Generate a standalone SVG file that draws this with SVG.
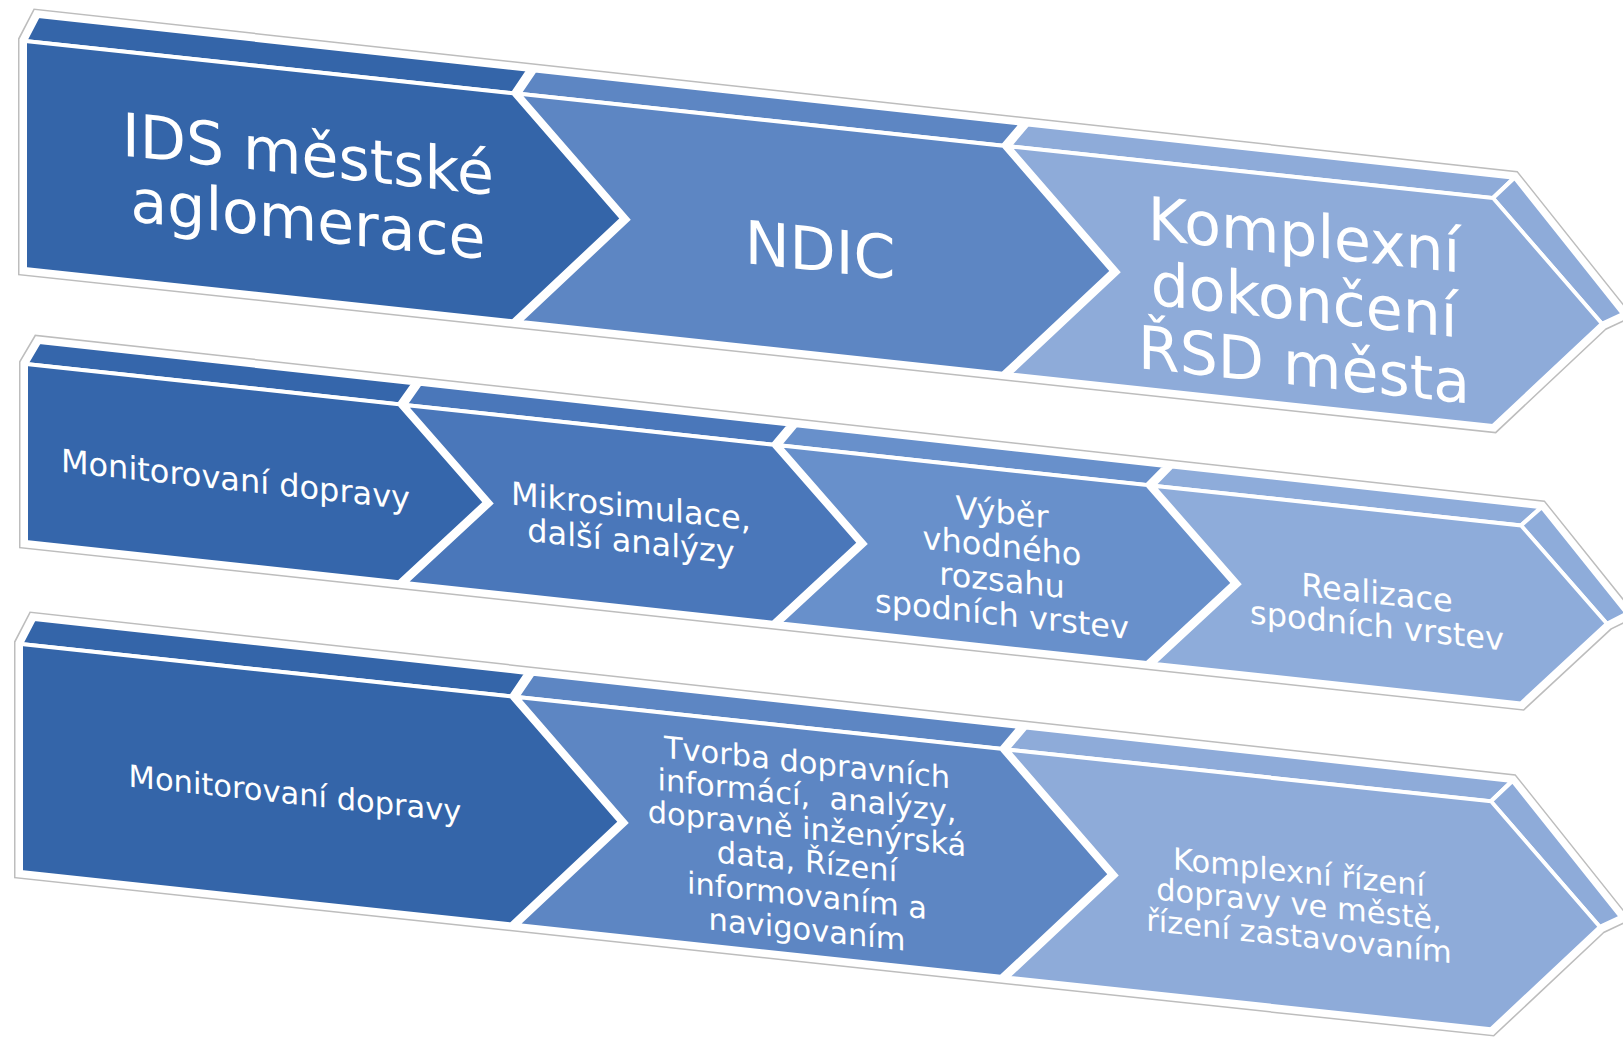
<svg xmlns="http://www.w3.org/2000/svg" width="1623" height="1038" viewBox="0 0 1623 1038">
<style>
.bg{fill:#ffffff}
.o1{fill:#ffffff;stroke:#bdbdbd;stroke-width:14;stroke-linejoin:miter}
.o2{fill:#ffffff;stroke:#ffffff;stroke-width:11;stroke-linejoin:miter}
.f{stroke:#ffffff;stroke-width:4;stroke-linejoin:miter}
.c1{fill:#3465a9}
.c2a{fill:#5d86c3}
.c3a{fill:#8eabd9}
.d1{fill:#3566ab}
.d2{fill:#4a77ba}
.d3{fill:#6890cb}
.d4{fill:#8eacda}
.t{fill:#ffffff;font-family:"DejaVu Sans",Verdana,sans-serif;text-anchor:middle}
.s1{font-size:60px}
.s2{font-size:32px}
.s3{font-size:30.5px}
</style>
<rect class="bg" x="0" y="0" width="1623" height="1038"/>
<g id="connectors"/>

<g id="row1" transform="matrix(1,0.107,0,1,25,41)">
  <path class="o1" d="M0,228 L0,0 L13,-26.4 L1489.4,-22.7 L1598,102 L1577,114 L1468,228 Z"/>
  <path class="o2" d="M0,228 L0,0 L13,-26.4 L1489.4,-22.7 L1598,102 L1577,114 L1468,228 Z"/>
  <g id="r1-ids">
    <polygon class="f c1" points="0,0 13,-26.4 503.8,-25.2 488,0"/>
    <polygon class="f c1" points="0,0 488,0 597,114 488,228 0,228"/>
    <text class="t s1" x="283" y="104">IDS městské</text>
    <text class="t s1" x="283" y="169">aglomerace</text>
  </g>
  <g id="r1-ndic">
    <polygon class="f c2a" points="494,0 509.8,-25.1 996.6,-23.9 978,0"/>
    <polygon class="f c2a" points="494,0 978,0 1087,114 978,228 494,228 603,114"/>
    <text class="t s1" x="795" y="145">NDIC</text>
  </g>
  <g id="r1-komplexni">
    <polygon class="f c3a" points="984,0 1002.6,-23.9 1489.4,-22.7 1468,0"/>
    <polygon class="f c3a" points="1468,0 1489.4,-22.7 1598,102 1577,114"/>
    <polygon class="f c3a" points="984,0 1468,0 1577,114 1468,228 984,228 1093,114"/>
    <text class="t s1" x="1279" y="78">Komplexní</text>
    <text class="t s1" x="1279" y="143">dokončení</text>
    <text class="t s1" x="1279" y="208">ŘSD města</text>
  </g>
</g>

<g id="row2" transform="matrix(1,0.108,0,1,26,364)">
  <path class="o1" d="M0,178 L0,0 L13,-23.4 L1515.6,-20.5 L1601,76.8 L1581,89 L1495,178 Z"/>
  <path class="o2" d="M0,178 L0,0 L13,-23.4 L1515.6,-20.5 L1601,76.8 L1581,89 L1495,178 Z"/>
  <g id="r2-monitorovani">
    <polygon class="f d1" points="0,0 13,-23.4 387.9,-22.7 373,0"/>
    <polygon class="f d1" points="0,0 373,0 459,89 373,178 0,178"/>
    <text class="t s2" x="209.5" y="104">Monitorovaní dopravy</text>
  </g>
  <g id="r2-mikrosimulace">
    <polygon class="f d2" points="379,0 393.9,-22.7 763.8,-21.9 747,0"/>
    <polygon class="f d2" points="379,0 747,0 833,89 747,178 379,178 465,89"/>
    <text class="t s2" x="605" y="88">Mikrosimulace,</text>
    <text class="t s2" x="605" y="123">další analýzy</text>
  </g>
  <g id="r2-vyber">
    <polygon class="f d3" points="753,0 769.8,-21.9 1139.7,-21.2 1121,0"/>
    <polygon class="f d3" points="753,0 1121,0 1207,89 1121,178 753,178 839,89"/>
    <text class="t s2" x="976" y="54">Výběr</text>
    <text class="t s2" x="976" y="88">vhodného</text>
    <text class="t s2" x="976" y="122">rozsahu</text>
    <text class="t s2" x="976" y="156">spodních vrstev</text>
  </g>
  <g id="r2-realizace">
    <polygon class="f d4" points="1127,0 1145.7,-21.2 1515.6,-20.5 1495,0"/>
    <polygon class="f d4" points="1495,0 1515.6,-20.5 1601,76.8 1581,89"/>
    <polygon class="f d4" points="1127,0 1495,0 1581,89 1495,178 1127,178 1213,89"/>
    <text class="t s2" x="1351" y="94">Realizace</text>
    <text class="t s2" x="1351" y="127">spodních vrstev</text>
  </g>
</g>

<g id="row3" transform="matrix(1,0.107,0,1,21,644)">
  <path class="o1" d="M0,228 L0,0 L13,-26.4 L1491.4,-22.7 L1600,102 L1579,114 L1470,228 Z"/>
  <path class="o2" d="M0,228 L0,0 L13,-26.4 L1491.4,-22.7 L1600,102 L1579,114 L1470,228 Z"/>
  <g id="r3-monitorovani">
    <polygon class="f c1" points="0,0 13,-26.4 505.8,-25.2 490,0"/>
    <polygon class="f c1" points="0,0 490,0 599,114 490,228 0,228"/>
    <text class="t s3" x="274" y="131">Monitorovaní dopravy</text>
  </g>
  <g id="r3-tvorba">
    <polygon class="f c2a" points="496,0 511.8,-25.1 998.6,-23.9 980,0"/>
    <polygon class="f c2a" points="496,0 980,0 1089,114 980,228 496,228 605,114"/>
    <text class="t s3" x="786" y="45">Tvorba dopravních</text>
    <text class="t s3" x="786" y="78" xml:space="preserve">informácí,  analýzy,</text>
    <text class="t s3" x="786" y="111">dopravně inženýrská</text>
    <text class="t s3" x="786" y="144">data, Řízení</text>
    <text class="t s3" x="786" y="178">informovaním a</text>
    <text class="t s3" x="786" y="212">navigovaním</text>
  </g>
  <g id="r3-komplexni">
    <polygon class="f c3a" points="986,0 1004.6,-23.9 1491.4,-22.7 1470,0"/>
    <polygon class="f c3a" points="1470,0 1491.4,-22.7 1600,102 1579,114"/>
    <polygon class="f c3a" points="986,0 1470,0 1579,114 1470,228 986,228 1095,114"/>
    <text class="t s3" x="1278" y="102">Komplexní řízení</text>
    <text class="t s3" x="1278" y="134">dopravy ve městě,</text>
    <text class="t s3" x="1278" y="166">řízení zastavovaním</text>
  </g>
</g>
</svg>
